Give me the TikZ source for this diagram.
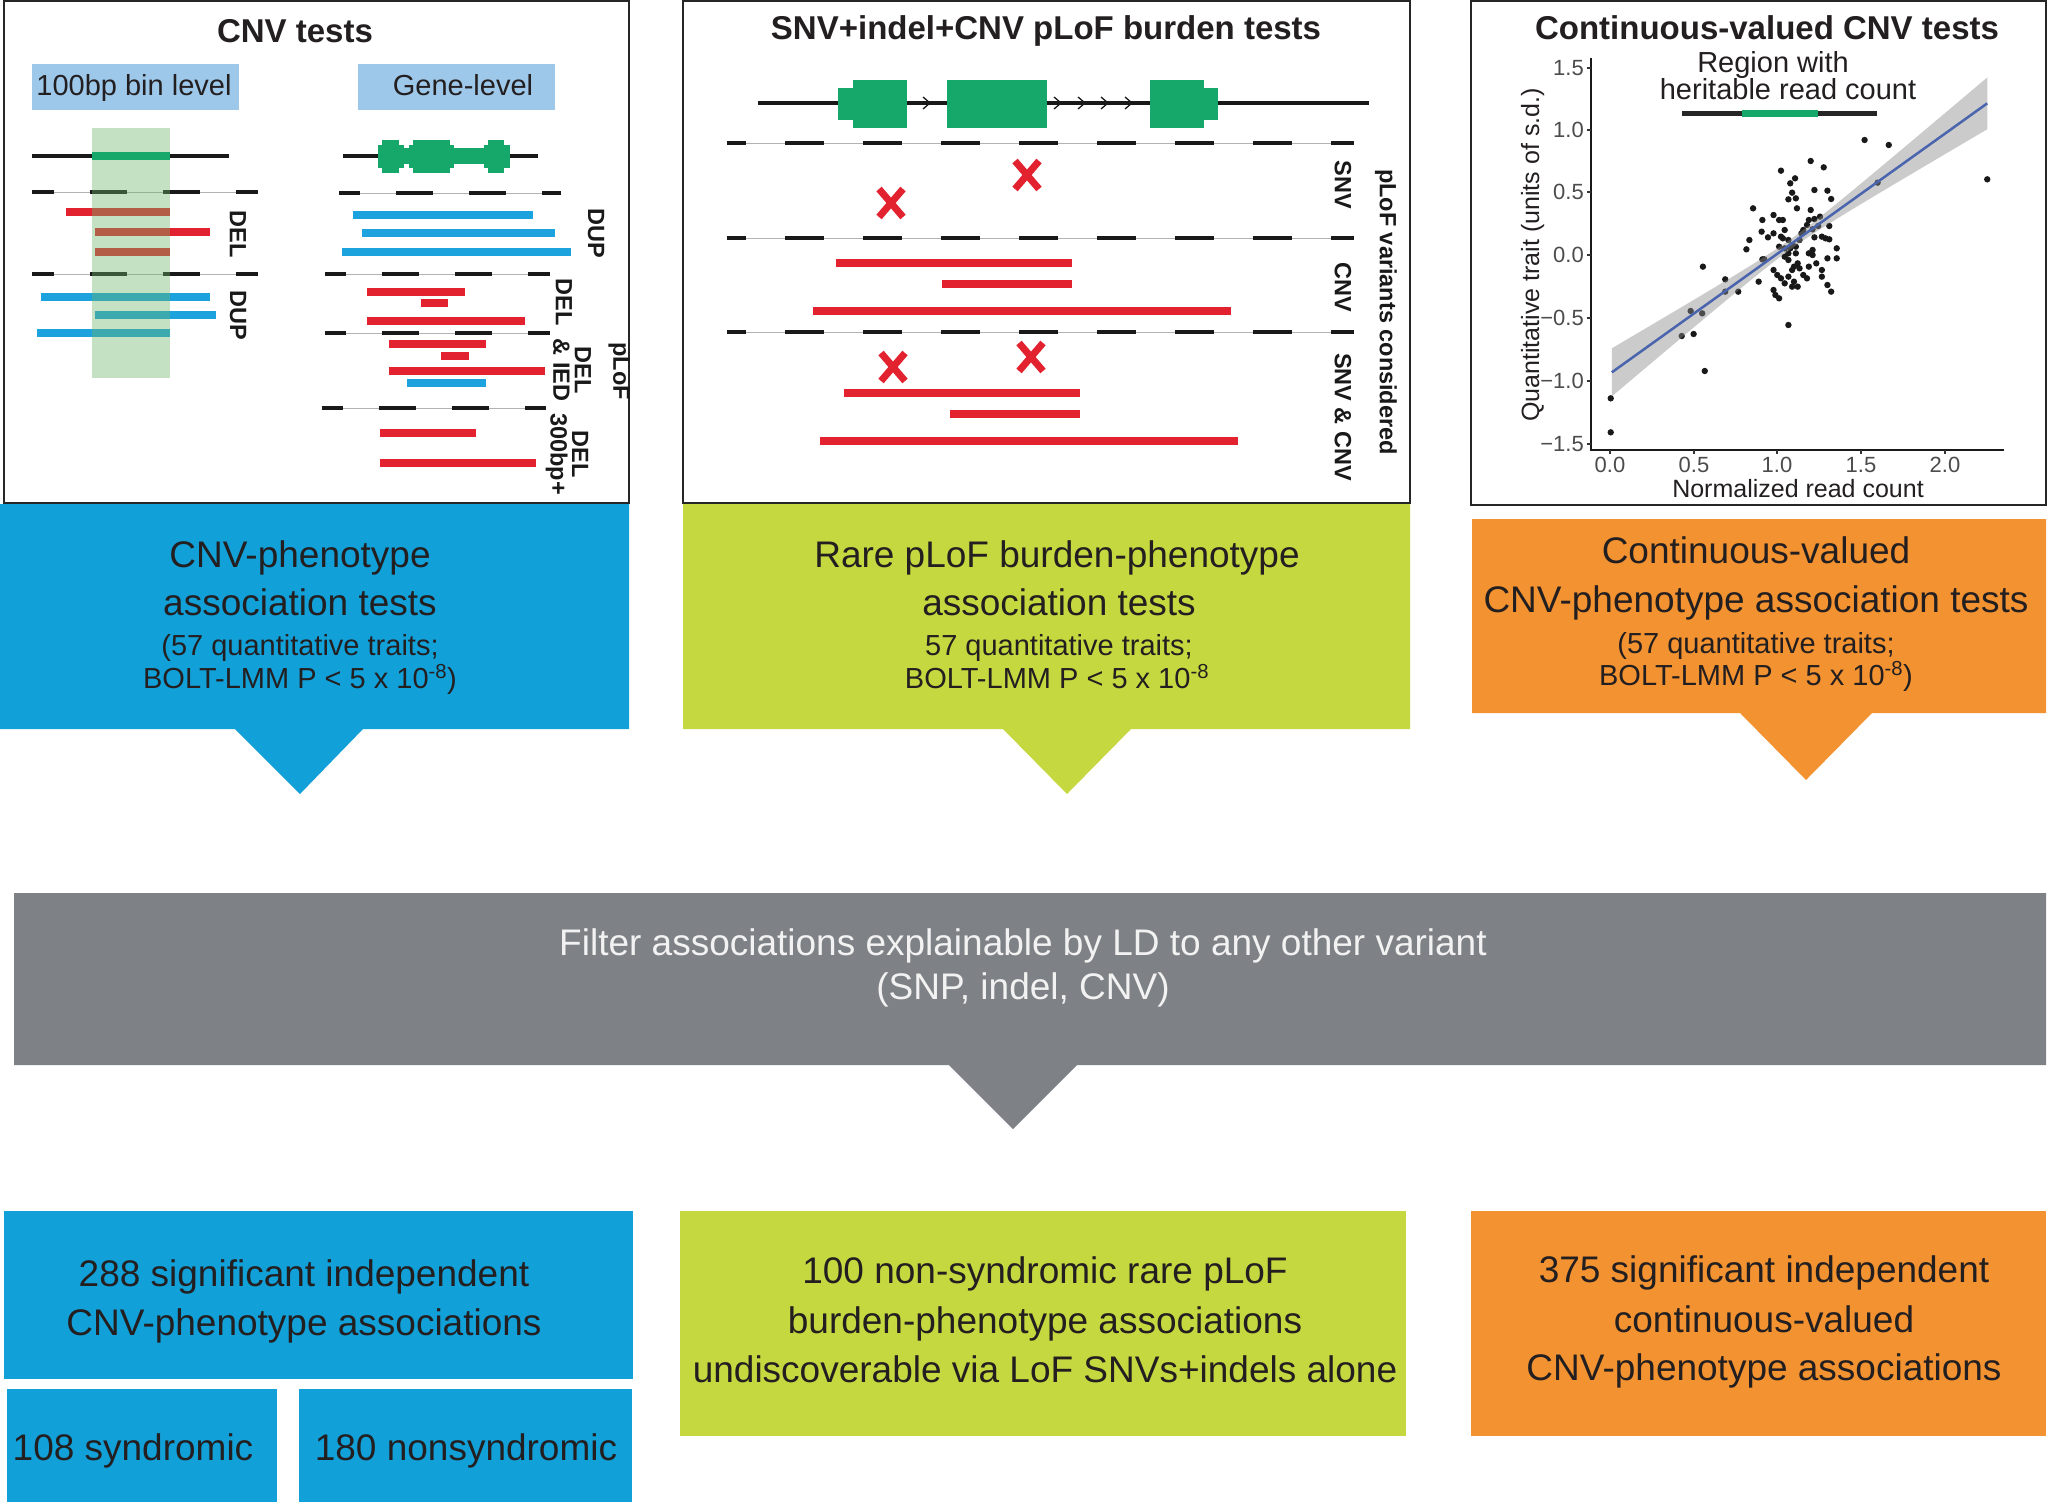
\documentclass[tikz,border=0pt]{standalone}
\usepackage{fontspec}
\setmainfont{Liberation Sans}
\definecolor{cblue}{HTML}{12A0D8}
\definecolor{clime}{HTML}{C5D83F}
\definecolor{corange}{HTML}{F39231}
\definecolor{cgray}{HTML}{7E8185}
\definecolor{lblue}{HTML}{9DC8EA}
\definecolor{ggreen}{HTML}{16A86B}
\definecolor{cred}{HTML}{E3222F}
\definecolor{bblue}{HTML}{1CA2DC}
\definecolor{colgreen}{HTML}{6DB56A}
\definecolor{txt}{HTML}{231F20}
\definecolor{rline}{HTML}{4A65AE}
\newcommand\fsz[2]{\fontsize{#1}{#2}\selectfont}
\newcommand\sepline[6]{\draw[septhin] (#1,#3) -- (#2,#3); \draw[sepdash, dash pattern=on #4pt off #5pt, dash phase=#6pt] (#1,#3) -- (#2,#3);}
\newcommand\redx[2]{\draw[redx] (#1-12,#2-14) -- (#1+12,#2+14) (#1-12,#2+14) -- (#1+12,#2-14);}
\begin{document}
\begin{tikzpicture}[x=1pt,y=-1pt,
  panelbox/.style={draw=black!85, line width=2pt},
  septhin/.style={draw=black!30, line width=1pt},
  sepdash/.style={draw=black!90, line width=4.5pt},
  cbar/.style={line width=8pt},
  vlbl/.style={font=\fsz{23.5}{21.5}\bfseries, rotate=-90, text=black!90, align=center, inner sep=0pt},
  ttl/.style={font=\fsz{33}{36}\bfseries, text=txt, anchor=base, inner sep=0pt},
  lbltext/.style={font=\fsz{29}{32}, text=txt, anchor=base, inner sep=0pt},
  bigt/.style={font=\fsz{37}{44}, text=txt, anchor=base, inner sep=0pt},
  smallt/.style={font=\fsz{29}{33}, text=txt, anchor=base, inner sep=0pt},
  ticklbl/.style={font=\fsz{22}{24}, text=black!70, inner sep=0pt},
  axlbl/.style={font=\fsz{25}{28}, text=txt, inner sep=0pt, anchor=base},
  redx/.style={draw=cred, line width=7pt},
  dot/.style={fill=black!90}
]
\useasboundingbox (0,0) rectangle (2047,1502);
\fill[white] (0,0) rectangle (2047,1502);

% ================= Panel 1: CNV tests =================
\draw[panelbox] (4,1) rectangle (629,503);
\node[ttl] (t1) at (295,42) {CNV tests};
\fill[lblue] (32,64) rectangle (239,110);
\node[lbltext] (binlbl) at (134,95) {100bp bin level};
\fill[lblue] (358,64) rectangle (555,110);
\node[lbltext] (genelbl) at (463,95) {Gene-level};

% bin level
\draw[line width=4.5pt, black!90] (32,156) -- (229,156);
\sepline{32}{258}{192}{37}{36}{15}
\draw[cbar, cred] (66,212) -- (170,212);
\draw[cbar, cred] (95,232) -- (210,232);
\draw[cbar, cred] (95,252) -- (170,252);
\sepline{32}{258}{274}{37}{36}{15}
\draw[cbar, bblue] (41,297) -- (210,297);
\draw[cbar, bblue] (95,315) -- (216,315);
\draw[cbar, bblue] (37,333) -- (170,333);
\fill[colgreen, opacity=0.4] (92,128) rectangle (170,378);
\draw[line width=8pt, ggreen] (92,156) -- (170,156);
\node[vlbl] (del1) at (238,234) {DEL};
\node[vlbl] (dup1) at (238,315) {DUP};

% gene level
\draw[line width=4.5pt, black!90] (343,156) -- (538,156);
\fill[ggreen] (378,148) rectangle (510,164);
\fill[ggreen] (382,140) rectangle (399,173);
\fill[ggreen] (378,145) rectangle (404,168);
\fill[ggreen] (413,140) rectangle (450,173);
\fill[ggreen] (409,145) rectangle (454,168);
\fill[ggreen] (488,140) rectangle (504,173);
\fill[ggreen] (484,145) rectangle (510,168);
\sepline{339}{561}{193}{37}{36}{16}
\draw[cbar, bblue] (353,215) -- (533,215);
\draw[cbar, bblue] (362,233) -- (555,233);
\draw[cbar, bblue] (342,252) -- (571,252);
\node[vlbl] (dup2) at (596,233) {DUP};
\sepline{325}{550}{274}{37}{36}{16}
\draw[cbar, cred] (367,292) -- (465,292);
\draw[cbar, cred] (421,303) -- (448,303);
\draw[cbar, cred] (367,321) -- (525,321);
\node[vlbl] (del2) at (564,302) {DEL};
\sepline{325}{550}{333}{37}{36}{16}
\draw[cbar, cred] (389,344) -- (486,344);
\draw[cbar, cred] (441,356) -- (469,356);
\draw[cbar, cred] (389,371) -- (545,371);
\draw[cbar, bblue] (407,383) -- (486,383);
\node[vlbl] (delied) at (572,370) {DEL\\\& IED};
\node[vlbl] (plof1) at (619,371) {pLoF};
\sepline{322}{546}{408}{37}{36}{16}
\draw[cbar, cred] (380,433) -- (476,433);
\draw[cbar, cred] (380,463) -- (536,463);
\node[vlbl] (del300) at (567,454) {DEL\\300bp+};

% ================= Panel 2: burden tests =================
\draw[panelbox] (683,1) rectangle (1410,503);
\node[ttl] (t2) at (1046,39) {SNV+indel+CNV pLoF burden tests};
\draw[line width=4.5pt, black!90] (758,103) -- (1369,103);
\fill[ggreen] (838,88) rectangle (853,120);
\fill[ggreen] (853,80) rectangle (907,128);
\fill[ggreen] (947,80) rectangle (1047,128);
\fill[ggreen] (1150,80) rectangle (1204,128);
\fill[ggreen] (1204,88) rectangle (1218,120);
\foreach \c in {927,1058,1082,1105,1129}
  \draw[line width=1.3pt, black!90] (\c-4,97) -- (\c+3,103) -- (\c-4,109);
\sepline{727}{1354}{143}{39}{39}{20}
\redx{1027}{175}
\redx{891}{203}
\sepline{727}{1354}{238}{39}{39}{20}
\draw[cbar, cred] (836,263) -- (1072,263);
\draw[cbar, cred] (942,284) -- (1072,284);
\draw[cbar, cred] (813,311) -- (1231,311);
\sepline{727}{1354}{332}{39}{39}{20}
\redx{1031}{357}
\redx{893}{367}
\draw[cbar, cred] (844,393) -- (1080,393);
\draw[cbar, cred] (950,414) -- (1080,414);
\draw[cbar, cred] (820,441) -- (1238,441);
\node[vlbl] (snv) at (1343,185) {SNV};
\node[vlbl] (cnv) at (1343,287) {CNV};
\node[vlbl] (snvcnv) at (1343,417) {SNV \& CNV};
\node[vlbl] (plofv) at (1386,312) {pLoF variants considered};

% ================= Panel 3: continuous =================
\draw[panelbox] (1471,1) rectangle (2046,505);
\node[ttl] (t3) at (1767,39) {Continuous-valued CNV tests};
\begin{scope}[shift={(1465pt,0pt)}, x={(0.3717pt,0pt)}, y={(0pt,-0.33333pt)}]
  \foreach \a/\b in {1075/420, 1140/435, 1405/538, 1110/548, 930/483, 965/502, 850/512, 775/625, 888/535, 875/550, 880/578, 890/595, 870/598, 940/570, 975/572, 985/597, 930/630, 955/650, 940/657, 893/625, 935/688, 950/678, 980/678, 960/710, 940/712, 970/715, 1000/745, 800/660, 798/695, 815/712, 765/720, 757/748, 830/645, 845/660, 855/660, 860/690, 850/710, 855/715, 870/720, 880/735, 875/745, 890/760, 900/720, 905/700, 910/690, 920/675, 925/660, 830/700, 845/740, 860/770, 870/780, 885/800, 895/790, 880/810, 870/830, 860/850, 880/860, 895/860, 830/810, 840/825, 850/835, 830/870, 835/885, 845/895, 800/778, 790/845, 805/778, 925/760, 935/750, 945/790, 960/810, 975/775, 960/830, 935/765, 925/800, 900/805, 910/825, 920/835, 870/760, 890/740, 860/745, 885/845, 870/975, 975/855, 985/875, 700/838, 700/875, 735/875, 640/800, 607/933, 638/940, 583/1008, 615/1002, 645/1113, 392/1195, 392/1297, 1000/775, 980/718}
    \fill[dot] (\a,\b) circle (3.2pt);
  \fill[black!45, opacity=0.45] plot[domain=395:1405, samples=41] (\x, {1117-0.799*(\x-395) - sqrt(225+211*((\x-880)/100)^2)})
     -- plot[domain=1405:395, samples=41] (\x, {1117-0.799*(\x-395) + sqrt(225+211*((\x-880)/100)^2)}) -- cycle;
  \draw[rline, line width=2.5pt] (395,1117) -- (1405,310);
\end{scope}
\draw[line width=2pt, black!90] (1591,58) -- (1591,450) -- (2004,450);
\foreach \yy in {68,130,192,255,318,381,444}
  \draw[line width=1.5pt, black!80] (1587,\yy) -- (1591,\yy);
\node[ticklbl, anchor=east] (y1) at (1584,68) {1.5};
\node[ticklbl, anchor=east] (y2) at (1584,130) {1.0};
\node[ticklbl, anchor=east] (y3) at (1584,192) {0.5};
\node[ticklbl, anchor=east] (y4) at (1584,255) {0.0};
\node[ticklbl, anchor=east] (y5) at (1584,318) {−0.5};
\node[ticklbl, anchor=east] (y6) at (1584,381) {−1.0};
\node[ticklbl, anchor=east] (y7) at (1584,444) {−1.5};
\foreach \xx in {1610,1694,1777,1861,1945}
  \draw[line width=1.5pt, black!80] (\xx,450) -- (\xx,454);
\node[ticklbl, anchor=base] (x1) at (1610,472) {0.0};
\node[ticklbl, anchor=base] (x2) at (1694,472) {0.5};
\node[ticklbl, anchor=base] (x3) at (1777,472) {1.0};
\node[ticklbl, anchor=base] (x4) at (1861,472) {1.5};
\node[ticklbl, anchor=base] (x5) at (1945,472) {2.0};
\node[axlbl] (xlab) at (1798,497) {Normalized read count};
\node[axlbl, rotate=90] (ylab) at (1539,255) {Quantitative trait (units of s.d.)};
\node[lbltext] (reg1) at (1773,72) {Region with};
\node[lbltext] (reg2) at (1788,99) {heritable read count};
\draw[line width=5pt, black!85] (1682,113) -- (1877,113);
\draw[line width=7pt, ggreen] (1742,113) -- (1818,113);

% ================= Tier 2 boxes =================
\fill[cblue] (0,504) -- (629,504) -- (629,729) -- (363,729) -- (300,794) -- (235,729) -- (0,729) -- cycle;
\node[bigt] (b1) at (300,567) {CNV-phenotype};
\node[bigt] (b2) at (300,615) {association tests};
\node[smallt] (b3) at (300,655) {(57 quantitative traits;};
\node[smallt] (b4) at (300,688) {BOLT-LMM P < 5 x 10\textsuperscript{-8})};

\fill[clime] (683,504) -- (1410,504) -- (1410,729) -- (1131,729) -- (1067,794) -- (1003,729) -- (683,729) -- cycle;
\node[bigt] (l1) at (1057,567) {Rare pLoF burden-phenotype};
\node[bigt] (l2) at (1059,615) {association tests};
\node[smallt] (l3) at (1059,655) {57 quantitative traits;};
\node[smallt] (l4) at (1057,688) {BOLT-LMM P < 5 x 10\textsuperscript{-8}};

\fill[corange] (1472,519) -- (2046,519) -- (2046,713) -- (1872,713) -- (1806,780) -- (1740,713) -- (1472,713) -- cycle;
\node[bigt] (o1) at (1756,563) {Continuous-valued};
\node[bigt] (o2) at (1756,612) {CNV-phenotype association tests};
\node[smallt] (o3) at (1756,653) {(57 quantitative traits;};
\node[smallt] (o4) at (1756,685) {BOLT-LMM P < 5 x 10\textsuperscript{-8})};

% ================= Gray filter box =================
\fill[cgray] (14,893) -- (2046,893) -- (2046,1065) -- (1077,1065) -- (1013,1129) -- (949,1065) -- (14,1065) -- cycle;
\node[bigt, text=white!95!black] (g1) at (1023,955) {Filter associations explainable by LD to any other variant};
\node[bigt, text=white!95!black] (g2) at (1023,999) {(SNP, indel, CNV)};

% ================= Bottom boxes =================
\fill[cblue] (4,1211) rectangle (633,1379);
\node[bigt] (r1) at (304,1286) {288 significant independent};
\node[bigt] (r2) at (304,1335) {CNV-phenotype associations};
\fill[cblue] (7,1389) rectangle (277,1502);
\node[bigt] (r3) at (133,1460) {108 syndromic};
\fill[cblue] (299,1389) rectangle (632,1502);
\node[bigt] (r4) at (466,1460) {180 nonsyndromic};

\fill[clime] (680,1211) rectangle (1406,1436);
\node[bigt] (s1) at (1045,1283) {100 non-syndromic rare pLoF};
\node[bigt] (s2) at (1045,1333) {burden-phenotype associations};
\node[bigt] (s3) at (1045,1382) {undiscoverable via LoF SNVs+indels alone};

\fill[corange] (1471,1211) rectangle (2046,1436);
\node[bigt] (u1) at (1764,1282) {375 significant independent};
\node[bigt] (u2) at (1764,1332) {continuous-valued};
\node[bigt] (u3) at (1764,1380) {CNV-phenotype associations};
\end{tikzpicture}
\end{document}
